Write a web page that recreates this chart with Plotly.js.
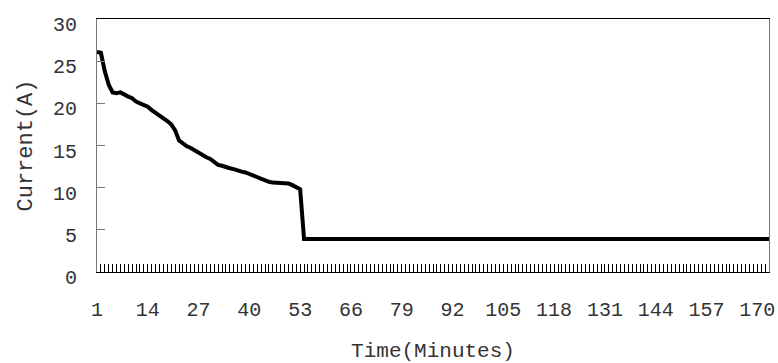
<!DOCTYPE html>
<html>
<head>
<meta charset="utf-8">
<script src="https://cdn.plot.ly/plotly-3.0.1.min.js"></script>
<style>
  html, body { margin: 0; padding: 0; background: #fff; }
  #chart { width: 778px; height: 363px; }
</style>
</head>
<body>
<div id="chart"></div>
<script>
// Current (A) per minute
const currentDrop = [
  26.1, 26.0, 23.8, 22.2, 21.3, 21.2, 21.3, 21.0, 20.8, 20.6,
  20.2, 20.0, 19.8, 19.6, 19.2, 18.9, 18.5, 18.2, 17.9, 17.5,
  16.8, 15.6, 15.2, 14.9, 14.7, 14.4, 14.1, 13.8, 13.6, 13.4,
  13.0, 12.7, 12.6, 12.4, 12.3, 12.2, 12.0, 11.9, 11.8, 11.6,
  11.4, 11.2, 11.0, 10.9, 10.7, 10.6, 10.6, 10.6, 10.6, 10.5,
  10.3, 10.0, 9.8
];
const currentFlat = [
  3.9, 3.9, 3.9, 3.9, 3.9, 3.9, 3.9, 3.9, 3.9, 3.9,
  3.9, 3.9, 3.9, 3.9, 3.9, 3.9, 3.9, 3.9, 3.9, 3.9,
  3.9, 3.9, 3.9, 3.9, 3.9, 3.9, 3.9, 3.9, 3.9, 3.9,
  3.9, 3.9, 3.9, 3.9, 3.9, 3.9, 3.9, 3.9, 3.9, 3.9,
  3.9, 3.9, 3.9, 3.9, 3.9, 3.9, 3.9, 3.9, 3.9, 3.9,
  3.9, 3.9, 3.9, 3.9, 3.9, 3.9, 3.9, 3.9, 3.9, 3.9,
  3.9, 3.9, 3.9, 3.9, 3.9, 3.9, 3.9, 3.9, 3.9, 3.9,
  3.9, 3.9, 3.9, 3.9, 3.9, 3.9, 3.9, 3.9, 3.9, 3.9,
  3.9, 3.9, 3.9, 3.9, 3.9, 3.9, 3.9, 3.9, 3.9, 3.9,
  3.9, 3.9, 3.9, 3.9, 3.9, 3.9, 3.9, 3.9, 3.9, 3.9,
  3.9, 3.9, 3.9, 3.9, 3.9, 3.9, 3.9, 3.9, 3.9, 3.9,
  3.9, 3.9, 3.9, 3.9, 3.9, 3.9, 3.9, 3.9, 3.9, 3.9
];
const current = currentDrop.concat(currentFlat);
const minutes = current.map((_, i) => i + 1);

const xTitle = 'Time(Minutes)';
const yTitle = 'Current(A)';

const font = "'Liberation Mono', monospace";
const textColor = '#333';

const trace = {
  x: minutes,
  y: current,
  type: 'scatter',
  mode: 'lines',
  line: { color: '#000', width: 4 },
  hoverinfo: 'skip'
};

const layout = {
  width: 778,
  height: 363,
  margin: { l: 97, r: 9, t: 19, b: 91 },
  paper_bgcolor: '#fff',
  plot_bgcolor: '#fff',
  showlegend: false,
  font: { family: font, color: textColor, size: 20 },
  xaxis: {
    range: [1, 173],
    tick0: 1,
    dtick: 13,
    showgrid: false,
    zeroline: false,
    showline: true,
    linecolor: '#000',
    linewidth: 1,
    mirror: true,
    ticks: 'inside',
    ticklen: 8,
    tickcolor: '#000',
    tickwidth: 1,
    ticklabelstandoff: 19,
    minor: { dtick: 1, tick0: 1, ticks: 'inside', ticklen: 8, tickcolor: '#000', tickwidth: 1, showgrid: false },
    tickfont: { family: font, size: 20, color: textColor },
    title: { text: xTitle, font: { family: font, size: 21, color: textColor }, standoff: 21 }
  },
  yaxis: {
    range: [0, 30],
    dtick: 5,
    showgrid: false,
    zeroline: false,
    showline: true,
    linecolor: '#777',
    linewidth: 1,
    mirror: true,
    ticks: 'inside',
    ticklen: 8,
    tickcolor: '#777',
    ticklabelstandoff: 15,
    ticklabelshift: 5,
    tickfont: { family: font, size: 20, color: textColor },
    title: { text: yTitle, font: { family: font, size: 22, color: textColor }, standoff: 14 }
  }
};

Plotly.newPlot('chart', [trace], layout, { staticPlot: true, displayModeBar: false });
</script>
</body>
</html>
